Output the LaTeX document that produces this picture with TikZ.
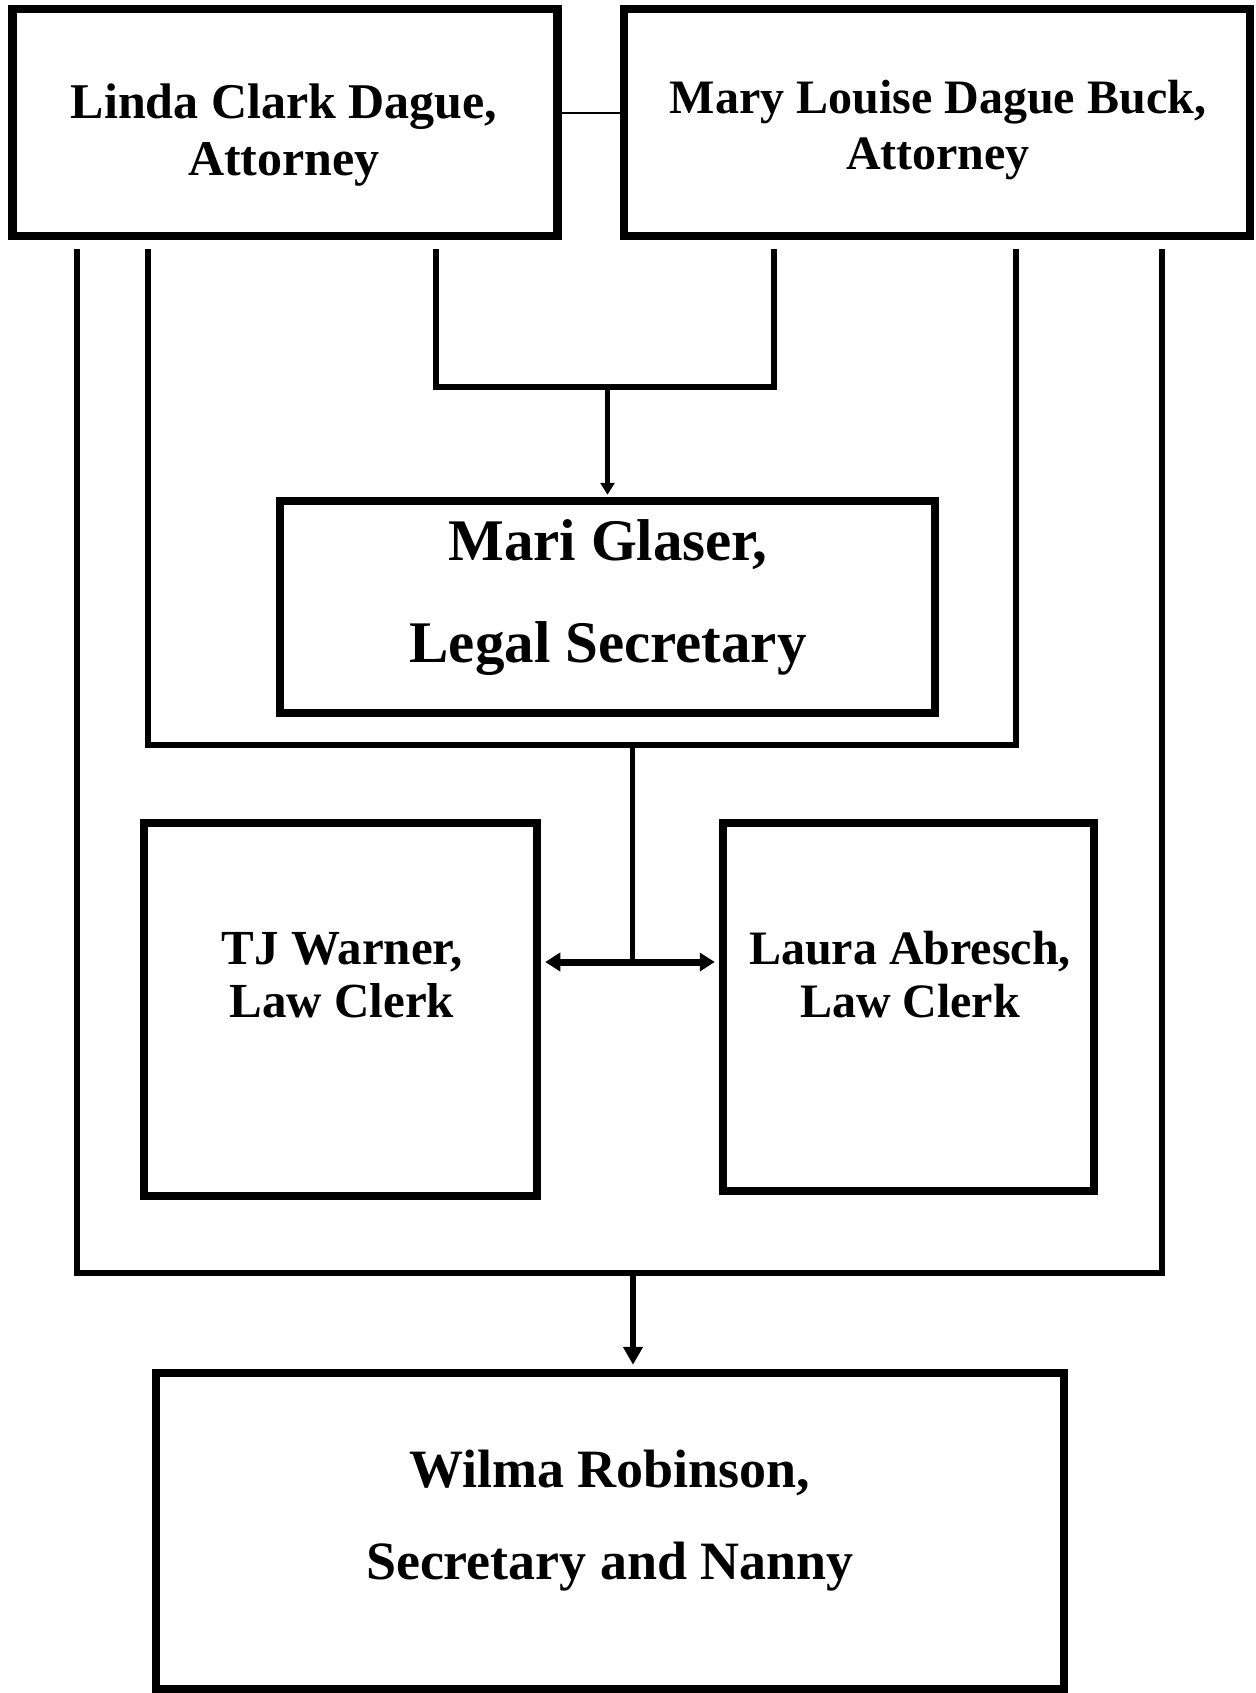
\documentclass[tikz,border=0pt]{standalone}
\usepackage{fontspec}
\setmainfont{Liberation Serif}
\usepackage{tikz}
\usetikzlibrary{positioning,arrows.meta}

\begin{document}
\begin{tikzpicture}[
    x=0.5pt, y=-0.5pt,
    box/.style={draw, line width=4.25pt, inner sep=0pt},
    txt/.style={align=center, font=\bfseries},
    conn/.style={line width=3pt, shorten <=4.5pt, shorten >=4.5pt},
    every path/.style={line cap=butt}
]
    \useasboundingbox (0,0) rectangle (1255,1693);

    % boxes
    \node[box, minimum width=272.5pt, minimum height=113.5pt] (linda) at (285,122.5) {};
    \node[box, minimum width=313pt, minimum height=113.5pt] (mary) at (937,122.5) {};
    \node[box, minimum width=327.5pt, minimum height=106pt] (mari) at (607.5,607) {};
    \node[box, minimum width=196.5pt, minimum height=186.5pt] (tj) at (340.5,1009.5) {};
    \node[box, minimum width=185.5pt, minimum height=184pt] (laura) at (908.5,1007) {};
    \node[box, minimum width=454pt, minimum height=158pt] (wilma) at (610,1531) {};

    % names
    \node[txt, font=\bfseries\fontsize{25}{28.5}\selectfont] (lindatxt) at (284,135) {Linda Clark Dague,\\Attorney};
    \node[txt, font=\bfseries\fontsize{24}{28}\selectfont] (marytxt) at (938,130) {Mary Louise Dague Buck,\\Attorney};
    \node[txt, font=\bfseries\fontsize{29.5}{51}\selectfont] (maritxt) at (608,598) {Mari Glaser,\\Legal Secretary};
    \node[txt, font=\bfseries\fontsize{24.5}{26.5}\selectfont] (tjtxt) at (342,975) {TJ Warner,\\Law Clerk};
    \node[txt, font=\bfseries\fontsize{24}{26.5}\selectfont] (lauratxt) at (910,975) {Laura Abresch,\\Law Clerk};
    \node[txt, font=\bfseries\fontsize{27}{46}\selectfont] (wilmatxt) at (610,1521) {Wilma Robinson,\\Secretary and Nanny};

    % line columns and junctions
    \coordinate (c1) at (77,0);
    \coordinate (c2) at (148,0);
    \coordinate (c3) at (436,0);
    \coordinate (c4) at (774,0);
    \coordinate (c5) at (1016,0);
    \coordinate (c6) at (1162,0);
    \coordinate (tie) at (0,113);
    \coordinate (jtop) at (607.5,387);
    \coordinate (ibot) at (632,745);
    \coordinate (cjoin) at (632,962);
    \coordinate (obot) at (633,1273);

    \draw[line width=1pt] (linda.east |- tie) -- (mary.west |- tie);

    \draw[conn] (linda.south -| c3) |- (jtop) -| (mary.south -| c4);
    \draw[line width=2.5pt, -{Triangle[length=6pt,width=7pt]}, shorten >=1pt] (jtop) -- (mari.north);

    \draw[conn] (linda.south -| c2) |- (ibot) -| (mary.south -| c5);
    \draw[line width=2.5pt] (ibot) -- (cjoin);
    \draw[line width=3.5pt, {Triangle[length=7.5pt,width=9pt]}-{Triangle[length=7.5pt,width=9pt]}, shorten <=2pt, shorten >=2pt] (tj.east |- cjoin) -- (laura.west |- cjoin);

    \draw[conn] (linda.south -| c1) |- (obot) -| (mary.south -| c6);
    \draw[line width=3pt, -{Triangle[length=9pt,width=9.5pt]}, shorten >=2pt] (obot) -- (wilma.north -| obot);
\end{tikzpicture}
\end{document}
